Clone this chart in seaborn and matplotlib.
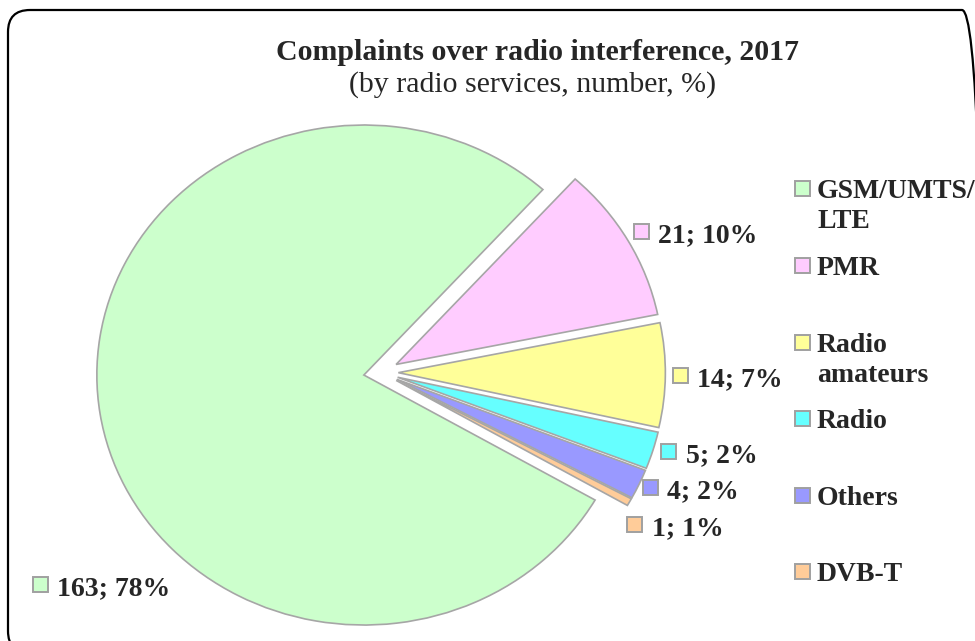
import matplotlib
matplotlib.use("Agg")
import matplotlib.pyplot as plt
import matplotlib.transforms as mtransforms
from matplotlib.patches import Rectangle, FancyBboxPatch
import seaborn as sns

# ---- data -------------------------------------------------------------
categories = ["GSM/UMTS/LTE", "PMR", "Radio amateurs", "Radio", "Others", "DVB-T"]
legend_labels = ["GSM/UMTS/\nLTE", "PMR", "Radio\namateurs", "Radio", "Others", "DVB-T"]
counts = [163, 21, 14, 5, 4, 1]
shares = [78, 10, 7, 2, 2, 1]          # percentages as printed on the labels
hex_colors = ["#CCFFCC", "#FFCCFF", "#FFFF99", "#66FFFF", "#9999FF", "#FFCC99"]

title = "Complaints over radio interference, 2017"
subtitle = "(by radio services, number, %)"

# ---- style ------------------------------------------------------------
sns.set_theme(style="white")
plt.rcParams["font.family"] = ["Liberation Serif", "DejaVu Serif"]
palette = sns.color_palette(hex_colors)

W, H = 975, 641
fig = plt.figure(figsize=(W / 100, H / 100), dpi=100)
fig.patch.set_facecolor("white")
# pixel coordinates (origin top-left, y downward)
pix = mtransforms.Affine2D().scale(1 / W, -1 / H).translate(0, 1) + fig.transFigure
# pixel coordinates (origin bottom-left, y upward)
pix_up = mtransforms.Affine2D().scale(1 / W, 1 / H) + fig.transFigure

# ---- pie --------------------------------------------------------------
ax = fig.add_axes([0, 0, 1, 1])
edge = "#A6A6A6"
wedges, _ = ax.pie(
    counts,
    colors=palette,
    explode=[0.065] * len(counts),
    startangle=330,
    counterclock=False,
    radius=1.0,
    wedgeprops=dict(edgecolor=edge, linewidth=1.2),
)
ax.set_aspect("auto")
# pie centre sits at pixel (381, 372.5); 267 px per unit across, 250 px per unit down
cx, cy, sx, sy = 381.0, 372.5, 267.0, 250.0
ax.set_xlim(-cx / sx, (W - cx) / sx)
ax.set_ylim(-(H - cy) / sy, cy / sy)
ax.axis("off")

# ---- frame (rounded, running past the right and bottom edges) ----------
frame_left, frame_top, frame_right, frame_bottom = 8, 10, 984, 653
frame = FancyBboxPatch((frame_left, H - frame_bottom),
                       frame_right - frame_left, frame_bottom - frame_top,
                       boxstyle="round,pad=0,rounding_size=22",
                       transform=pix_up, fill=False, edgecolor="black",
                       linewidth=1.6, clip_on=False)
fig.add_artist(frame)

# ---- titles -----------------------------------------------------------
fig.text(538, 60, title, transform=pix, ha="center", va="baseline",
         fontsize=21.5, fontweight="bold")
fig.text(533, 92, subtitle, transform=pix, ha="center", va="baseline",
         fontsize=21.5)

FS = 20
SQ = 15


def key_square(x, y, color):
    fig.add_artist(Rectangle((x - SQ / 2, y - SQ / 2), SQ, SQ, transform=pix,
                             facecolor=color, edgecolor="#A0A0A0", linewidth=1.4))


# ---- data labels ------------------------------------------------------
label_keys = [(40, 584), (641.5, 231), (680, 375), (668.5, 451), (650, 487), (634.5, 524.5)]
for (kx, ky), n, s, c in zip(label_keys, counts, shares, palette):
    key_square(kx, ky, c)
    fig.text(kx + 17, ky + 11, f"{n}; {s}%", transform=pix, ha="left",
             va="baseline", fontsize=FS, fontweight="bold")

# ---- legend -----------------------------------------------------------
legend_x = 802
legend_y = [188.5, 265.5, 342, 418.5, 495.5, 571.5]
for lab, ly, c in zip(legend_labels, legend_y, palette):
    key_square(legend_x, ly, c)
    for i, line in enumerate(lab.split("\n")):
        fig.text(legend_x + 15, ly + 9.5 + 30 * i, line, transform=pix, ha="left",
                 va="baseline", fontsize=FS, fontweight="bold")

fig.savefig("out.png", dpi=100, facecolor="white")
